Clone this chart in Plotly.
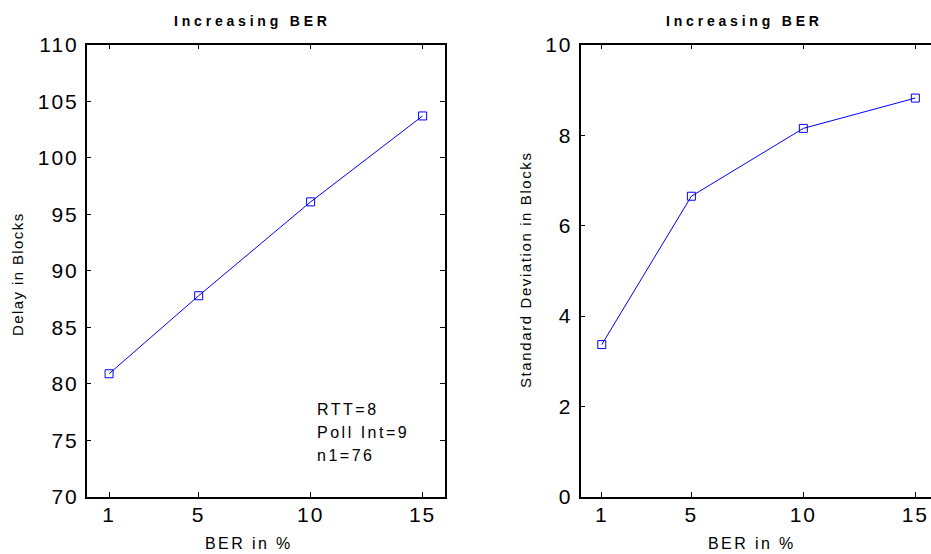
import plotly.graph_objects as go

# BER settings (percent) and measured results
ber = [1, 5, 10, 15]
delay_blocks = [80.9, 87.8, 96.1, 103.7]
std_dev_blocks = [3.37, 6.65, 8.15, 8.82]

x_ticks = [1, 5, 10, 15]
delay_ticks = [70, 75, 80, 85, 90, 95, 100, 105, 110]
std_ticks = [0, 2, 4, 6, 8, 10]

W, H = 931, 554
FONT = "Liberation Sans, Arial, sans-serif"
BLUE = "#0000FF"


def spaced(text, px):
    return f'<span style="letter-spacing:{px}px">{text}</span>'


def px_x(p):
    return p / W


def px_y(p):
    return 1 - p / H


fig = go.Figure()

fig.add_trace(go.Scatter(
    x=ber, y=delay_blocks, mode="lines+markers", xaxis="x", yaxis="y",
    line=dict(color=BLUE, width=1),
    marker=dict(symbol="square-open", size=8, color=BLUE, line=dict(width=1)),
    showlegend=False,
))
fig.add_trace(go.Scatter(
    x=ber, y=std_dev_blocks, mode="lines+markers", xaxis="x2", yaxis="y2",
    line=dict(color=BLUE, width=1),
    marker=dict(symbol="square-open", size=8, color=BLUE, line=dict(width=1)),
    showlegend=False,
))

tick_font = dict(family=FONT, size=21, color="black")
common = dict(
    showgrid=False, zeroline=False, showline=True, linecolor="black",
    linewidth=1.5, ticks="inside", ticklen=5, tickwidth=1, tickcolor="black",
    tickfont=tick_font, automargin=False,
)
ydom = [px_y(497), px_y(44.7)]

fig.update_layout(
    width=W, height=H,
    margin=dict(l=0, r=0, t=0, b=0, autoexpand=False),
    paper_bgcolor="white", plot_bgcolor="white",
    xaxis=dict(domain=[px_x(86.7), px_x(445)], range=[0, 16], anchor="y",
               tickvals=x_ticks, ticktext=[spaced(v, 2) for v in x_ticks],
               mirror="ticks", ticklabelstandoff=-2, **common),
    yaxis=dict(domain=ydom, range=[70, 110], anchor="x",
               tickvals=delay_ticks, ticktext=[spaced(v, 2) for v in delay_ticks],
               mirror="ticks", ticklabelstandoff=2, **common),
    xaxis2=dict(domain=[px_x(580.5), 1.0], range=[0.05, 15.7], anchor="y2",
                tickvals=x_ticks, ticktext=[spaced(v, 2) for v in x_ticks],
                mirror="ticks", ticklabelstandoff=-2, **common),
    yaxis2=dict(domain=ydom, range=[0, 10], anchor="x2",
                tickvals=std_ticks, ticktext=[spaced(v, 2) for v in std_ticks],
                mirror=False, ticklabelstandoff=2, **common),
)

ann = []
title_font = dict(family=FONT, size=14, color="black")
for cx in (252, 744):
    ann.append(dict(text=spaced("<b>Increasing BER</b>", 3.8), x=px_x(cx), y=px_y(21),
                    xref="paper", yref="paper", showarrow=False,
                    xanchor="center", yanchor="middle", font=title_font))

label_font = dict(family=FONT, size=16, color="black")
for cx in (249, 752):
    ann.append(dict(text=spaced("BER in %", 2.4), x=px_x(cx), y=px_y(543),
                    xref="paper", yref="paper", showarrow=False,
                    xanchor="center", yanchor="middle", font=label_font))

ylabel_font = dict(family=FONT, size=15, color="black")
ann.append(dict(text=spaced("Delay in Blocks", 1.4), x=px_x(18), y=px_y(274),
                xref="paper", yref="paper", showarrow=False, textangle=-90,
                xanchor="center", yanchor="middle", font=ylabel_font))
ann.append(dict(text=spaced("Standard Deviation in Blocks", 1.6), x=px_x(525), y=px_y(270),
                xref="paper", yref="paper", showarrow=False, textangle=-90,
                xanchor="center", yanchor="middle", font=ylabel_font))

note_font = dict(family=FONT, size=16, color="black")
for text, cy in (("RTT=8", 409), ("Poll Int=9", 432), ("n1=76", 455)):
    ann.append(dict(text=spaced(text, 2.5), x=px_x(315), y=px_y(cy),
                    xref="paper", yref="paper", showarrow=False,
                    xanchor="left", yanchor="middle", font=note_font))

fig.update_layout(annotations=ann)

fig.write_html("out.html")
